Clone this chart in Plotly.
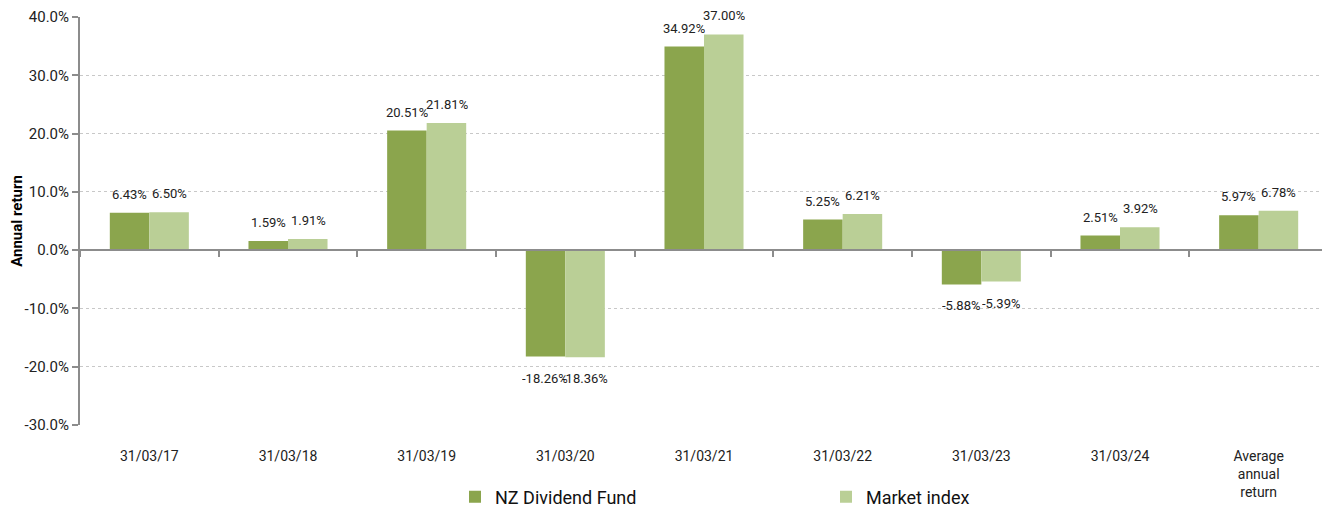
import plotly.graph_objects as go

categories = ["31/03/17", "31/03/18", "31/03/19", "31/03/20", "31/03/21",
              "31/03/22", "31/03/23", "31/03/24", "Average<br>annual<br>return"]
fund = [6.43, 1.59, 20.51, -18.26, 34.92, 5.25, -5.88, 2.51, 5.97]
market = [6.50, 1.91, 21.81, -18.36, 37.00, 6.21, -5.39, 3.92, 6.78]
series_names = ["NZ Dividend Fund", "Market index"]
colors = ["#8BA54D", "#BACF96"]
ytick_vals = [40, 30, 20, 10, 0, -10, -20, -30]

fig = go.Figure()
for name, vals, col in zip(series_names, [fund, market], colors):
    fig.add_trace(go.Bar(
        x=categories, y=vals, name=name, marker_color=col,
        marker_line_width=0, cliponaxis=False,
    ))

# data labels placed from the same values
for vals, xs in zip([fund, market], [-20, 20]):
    for c, v in zip(categories, vals):
        fig.add_annotation(x=c, y=v, text=f"{v:.2f}%", showarrow=False,
                           xshift=xs, yshift=19 if v >= 0 else -21,
                           height=14, borderpad=0,
                           font=dict(size=13, color="#222222", family="Roboto"))

# helper trace for the zero-line axis with boundary ticks
fig.add_trace(go.Scatter(x=categories, y=[None] * len(categories), xaxis="x2",
                         showlegend=False, hoverinfo="skip"))

fig.update_layout(
    width=1322, height=502,
    margin=dict(l=72, r=2, t=9, b=85, autoexpand=False),
    plot_bgcolor="white", paper_bgcolor="white",
    barmode="group", bargap=0.43, bargroupgap=0,
    font=dict(family="Roboto", color="#222222"),
    showlegend=True,
    legend=dict(orientation="h", xref="container", yref="container",
                x=447 / 1322, xanchor="left", y=13 / 502, yanchor="middle",
                font=dict(size=18, family="Roboto", color="#111111"),
                entrywidth=326, itemwidth=30, traceorder="normal"),
    xaxis=dict(type="category", showline=False, ticks="", showgrid=False,
               automargin=False,
               tickfont=dict(size=14, family="Roboto", color="#222222"),
               ticklabelstandoff=21, zeroline=False),
    xaxis2=dict(type="category", overlaying="x", matches="x", anchor="free",
                position=30 / 70, side="bottom", showticklabels=False,
                showline=True, linecolor="#8C8C8C", linewidth=2,
                ticks="outside", tickson="boundaries", ticklen=6,
                tickcolor="#8C8C8C", tickwidth=2, showgrid=False),
    yaxis=dict(range=[-30, 40], tickvals=ytick_vals,
               ticktext=[f"{v:.1f}%" for v in ytick_vals],
               automargin=False,
               showline=True, linecolor="#8C8C8C", linewidth=2,
               ticks="outside", ticklen=6, tickcolor="#8C8C8C", tickwidth=2,
               showgrid=True, gridcolor="#C8C8C8", griddash="dot", gridwidth=1,
               zeroline=False,
               tickfont=dict(size=15, family="Roboto", color="#222222"),
               title=dict(text="<b>Annual return</b>", standoff=4,
                          font=dict(size=15, family="Roboto", color="#000000"))),
)

fig.write_html("out.html")
